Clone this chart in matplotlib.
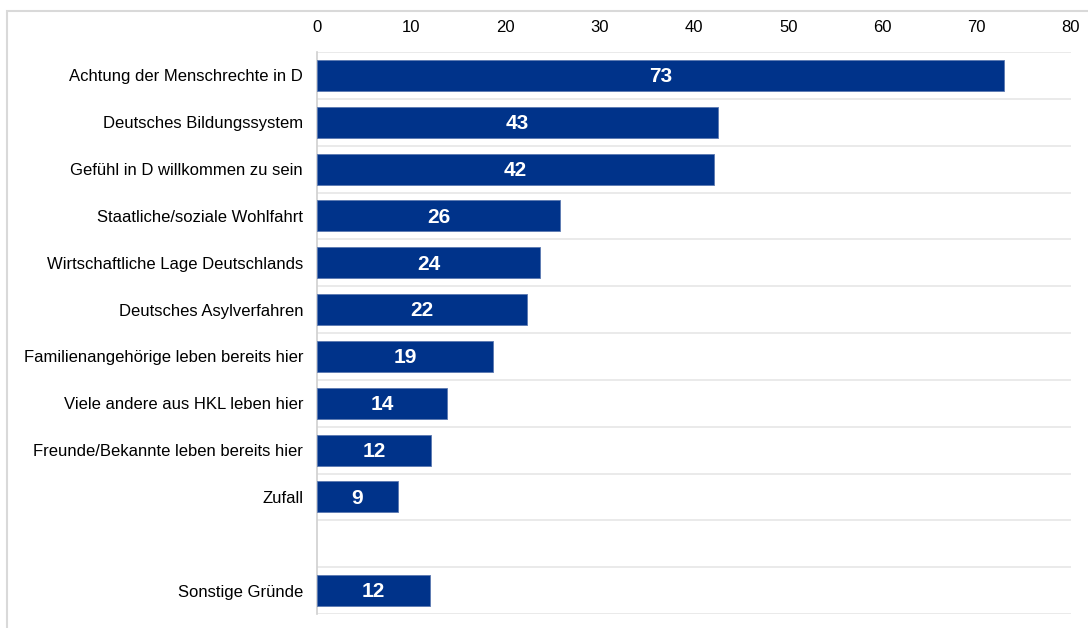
import numpy as np
import matplotlib.pyplot as plt
from matplotlib.patches import Rectangle

plt.rcParams['font.family'] = ['Liberation Sans', 'DejaVu Sans']

categories = [
    "Achtung der Menschrechte in D",
    "Deutsches Bildungssystem",
    "Gefühl in D willkommen zu sein",
    "Staatliche/soziale Wohlfahrt",
    "Wirtschaftliche Lage Deutschlands",
    "Deutsches Asylverfahren",
    "Familienangehörige leben bereits hier",
    "Viele andere aus HKL leben hier",
    "Freunde/Bekannte leben bereits hier",
    "Zufall",
    "",
    "Sonstige Gründe",
]
values = [72.9, 42.5, 42.1, 25.8, 23.7, 22.3, 18.7, 13.8, 12.1, 8.6, np.nan, 12.0]
labels = ["73", "43", "42", "26", "24", "22", "19", "14", "12", "9", "", "12"]
xticks = [0, 10, 20, 30, 40, 50, 60, 70, 80]

fig = plt.figure(figsize=(10.88, 6.28), dpi=100)
# outer chart frame (cropped screenshot)
fig.patches.append(Rectangle((7 / 1088, -0.1), 1.2, 1 - 11 / 628 + 0.1,
                             transform=fig.transFigure, fill=False,
                             edgecolor="#d9d9d9", linewidth=1.5))
ax = fig.add_axes([317 / 1088, 1 - 614 / 628, (1071 - 317) / 1088, 562 / 628])

n = len(categories)
ypos = np.arange(n)
vals = np.asarray(values)
mask = ~np.isnan(vals)
ax.barh(ypos[mask], vals[mask], height=0.66, color="#00338a",
        edgecolor="#5a78b0", linewidth=0.6, zorder=3)
for y, v, lab in zip(ypos, values, labels):
    if lab:
        ax.text(v / 2, y + 0.03, lab, ha="center", va="center", color="white",
                fontsize=15, fontweight="bold", zorder=4)

ax.set_ylim(n - 0.5, -0.5)
ax.set_xlim(0, 80)
ax.set_yticks(ypos)
ax.set_yticklabels(categories, fontsize=12)
ax.set_xticks(xticks)
ax.xaxis.tick_top()
ax.tick_params(axis="x", length=0, pad=12, labelsize=12)
ax.tick_params(axis="y", length=0, pad=10)

for b in np.arange(n + 1) - 0.5:
    ax.axhline(b, color="#e6e6e6", linewidth=1.2, zorder=1)
for s in ["top", "right", "bottom"]:
    ax.spines[s].set_visible(False)
ax.spines["left"].set_color("#d0d0d0")
ax.spines["left"].set_linewidth(1.2)

fig.savefig("out.png", dpi=100)
